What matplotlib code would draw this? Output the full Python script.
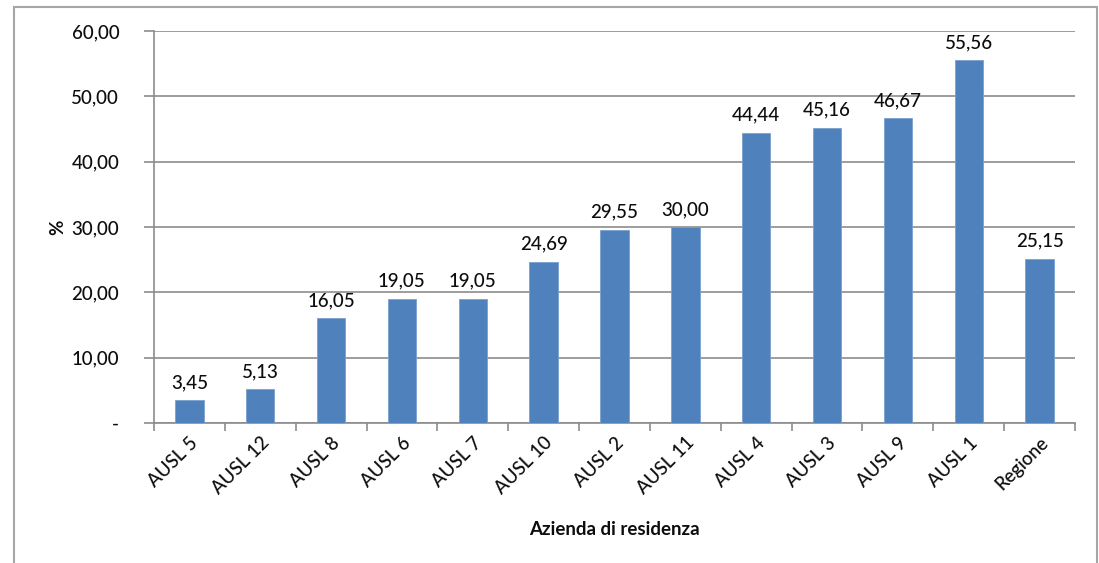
import numpy as np
import matplotlib.pyplot as plt
from matplotlib.patches import Rectangle

# Data
categories = ['AUSL 5', 'AUSL 12', 'AUSL 8', 'AUSL 6', 'AUSL 7', 'AUSL 10', 'AUSL 2',
              'AUSL 11', 'AUSL 4', 'AUSL 3', 'AUSL 9', 'AUSL 1', 'Regione']
values = [3.45, 5.13, 16.05, 19.05, 19.05, 24.69, 29.55, 30.00, 44.44, 45.16, 46.67, 55.56, 25.15]
yticks = [0, 10, 20, 30, 40, 50, 60]

plt.rcParams['font.family'] = ['Lato', 'DejaVu Sans']
fs = 13.5
tc = '#0d0d0d'

fig = plt.figure(figsize=(10.99, 5.63), dpi=100)
# outer chart frame
fig.patches.append(Rectangle((14 / 1099, -0.01), 1083 / 1099, 1 - 7 / 563 + 0.01,
                             transform=fig.transFigure, fill=False,
                             edgecolor='#a6a6a6', linewidth=1.5))

ax = fig.add_axes([154 / 1099, 1 - 423 / 563, (1075 - 154) / 1099, (423 - 31) / 563])

x = np.arange(len(categories))
ax.bar(x, values, width=0.4, color='#4f81bd', edgecolor='#7aa0cf', linewidth=0.6, zorder=3)

for xi, v in zip(x, values):
    ax.text(xi, v + 1.4, f'{v:.2f}'.replace('.', ','), ha='center', va='bottom',
            fontsize=fs, color=tc, fontweight='medium')

ax.set_xlim(-0.5, len(categories) - 0.5)
ax.set_ylim(0, 60)
ax.set_yticks(yticks)
ax.set_yticklabels(['-' if t == 0 else f'{t:.2f}'.replace('.', ',') for t in yticks],
                   fontsize=fs, color=tc, fontweight='medium')
ax.yaxis.grid(True, color='#8c8c8c', linewidth=1.2, zorder=0)

ax.set_xticks(np.arange(len(categories) + 1) - 0.5, minor=False)
ax.set_xticklabels([])
ax.set_xticks(x, minor=True)
ax.set_xticklabels(categories, minor=True, rotation=45, ha='right', rotation_mode='anchor',
                   fontsize=fs, color=tc, fontweight='medium')
ax.tick_params(axis='x', which='minor', length=0, pad=8)
ax.tick_params(axis='x', which='major', length=6, width=1.2, color='#8c8c8c')
ax.tick_params(axis='y', length=7, width=1.2, color='#8c8c8c', pad=18)

for s in ['top', 'right']:
    ax.spines[s].set_visible(False)
for s in ['left', 'bottom']:
    ax.spines[s].set_color('#8c8c8c')
    ax.spines[s].set_linewidth(1.2)

ax.set_xlabel('Azienda di residenza', fontsize=fs, fontweight='bold', color=tc)
ax.xaxis.set_label_coords(0.5, -0.25)
ax.set_ylabel('%', fontsize=fs, fontweight='bold', color=tc)
ax.yaxis.set_label_coords(-0.095, 0.5)

fig.savefig('out.png', dpi=100)
